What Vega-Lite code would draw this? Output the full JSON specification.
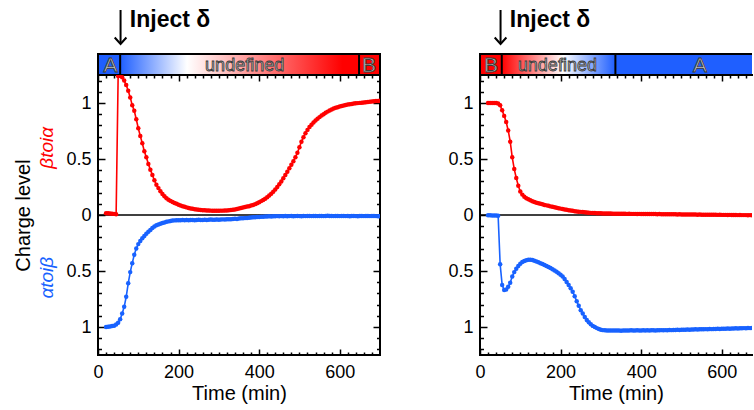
{
"$schema": "https://vega.github.io/schema/vega-lite/v6.json",
"background": "white",
"padding": {"left": 12, "top": 4, "right": 0, "bottom": 0},
"config": {
  "font": "Liberation Sans",
  "view": {"stroke": "black", "strokeWidth": 2},
  "axis": {"grid": false, "domain": false, "labelFont": "Liberation Sans", "labelFontSize": 18, "labelColor": "black", "titleFont": "Liberation Sans", "titleFontSize": 20, "titleFontWeight": "normal", "titleColor": "black", "tickColor": "black", "tickWidth": 1.5, "labelOverlap": false, "labelFlush": false}
},
"datasets": {
"LR": [{"t":20,"v":0.015},{"t":25,"v":0.015},{"t":30,"v":0.014},{"t":35,"v":0.012},{"t":40,"v":0.01},{"t":45,"v":0.006},{"t":50,"v":1.24},{"t":55,"v":1.24},{"t":60,"v":1.23},{"t":65,"v":1.2},{"t":70,"v":1.16},{"t":75,"v":1.11},{"t":80,"v":1.05},{"t":85,"v":0.98},{"t":90,"v":0.93},{"t":95,"v":0.855},{"t":100,"v":0.775},{"t":105,"v":0.705},{"t":110,"v":0.64},{"t":115,"v":0.57},{"t":120,"v":0.515},{"t":125,"v":0.455},{"t":130,"v":0.405},{"t":135,"v":0.357},{"t":140,"v":0.31},{"t":145,"v":0.27},{"t":150,"v":0.24},{"t":155,"v":0.212},{"t":160,"v":0.187},{"t":165,"v":0.167},{"t":170,"v":0.15},{"t":175,"v":0.137},{"t":180,"v":0.126},{"t":185,"v":0.116},{"t":190,"v":0.108},{"t":195,"v":0.1},{"t":200,"v":0.092},{"t":205,"v":0.085},{"t":210,"v":0.079},{"t":215,"v":0.073},{"t":220,"v":0.068},{"t":225,"v":0.063},{"t":230,"v":0.059},{"t":235,"v":0.055},{"t":240,"v":0.051},{"t":245,"v":0.049},{"t":250,"v":0.047},{"t":255,"v":0.045},{"t":260,"v":0.043},{"t":265,"v":0.042},{"t":270,"v":0.041},{"t":275,"v":0.04},{"t":280,"v":0.039},{"t":285,"v":0.038},{"t":290,"v":0.038},{"t":295,"v":0.038},{"t":300,"v":0.038},{"t":305,"v":0.039},{"t":310,"v":0.039},{"t":315,"v":0.04},{"t":320,"v":0.041},{"t":325,"v":0.043},{"t":330,"v":0.045},{"t":335,"v":0.047},{"t":340,"v":0.05},{"t":345,"v":0.054},{"t":350,"v":0.058},{"t":355,"v":0.063},{"t":360,"v":0.067},{"t":365,"v":0.071},{"t":370,"v":0.075},{"t":375,"v":0.079},{"t":380,"v":0.084},{"t":385,"v":0.089},{"t":390,"v":0.097},{"t":395,"v":0.105},{"t":400,"v":0.114},{"t":405,"v":0.124},{"t":410,"v":0.134},{"t":415,"v":0.146},{"t":420,"v":0.159},{"t":425,"v":0.174},{"t":430,"v":0.19},{"t":435,"v":0.208},{"t":440,"v":0.228},{"t":445,"v":0.25},{"t":450,"v":0.274},{"t":455,"v":0.3},{"t":460,"v":0.328},{"t":465,"v":0.357},{"t":470,"v":0.387},{"t":475,"v":0.417},{"t":480,"v":0.448},{"t":485,"v":0.48},{"t":490,"v":0.515},{"t":495,"v":0.556},{"t":500,"v":0.605},{"t":505,"v":0.655},{"t":510,"v":0.695},{"t":515,"v":0.73},{"t":520,"v":0.76},{"t":525,"v":0.785},{"t":530,"v":0.806},{"t":535,"v":0.825},{"t":540,"v":0.843},{"t":545,"v":0.859},{"t":550,"v":0.874},{"t":555,"v":0.888},{"t":560,"v":0.9},{"t":565,"v":0.912},{"t":570,"v":0.923},{"t":575,"v":0.933},{"t":580,"v":0.942},{"t":585,"v":0.95},{"t":590,"v":0.957},{"t":595,"v":0.963},{"t":600,"v":0.969},{"t":605,"v":0.974},{"t":610,"v":0.978},{"t":615,"v":0.982},{"t":620,"v":0.986},{"t":625,"v":0.989},{"t":630,"v":0.992},{"t":635,"v":0.995},{"t":640,"v":0.997},{"t":645,"v":0.999},{"t":650,"v":1.001},{"t":655,"v":1.003},{"t":660,"v":1.005},{"t":665,"v":1.007},{"t":670,"v":1.009},{"t":675,"v":1.011},{"t":680,"v":1.013},{"t":685,"v":1.015},{"t":690,"v":1.017},{"t":695,"v":1.018},{"t":700,"v":1.02}],
"LB": [{"t":20,"v":-1.0},{"t":25,"v":-0.998},{"t":30,"v":-0.995},{"t":35,"v":-0.992},{"t":40,"v":-0.988},{"t":45,"v":-0.978},{"t":50,"v":-0.962},{"t":55,"v":-0.93},{"t":60,"v":-0.88},{"t":65,"v":-0.82},{"t":70,"v":-0.73},{"t":75,"v":-0.61},{"t":80,"v":-0.51},{"t":85,"v":-0.43},{"t":90,"v":-0.355},{"t":95,"v":-0.3},{"t":100,"v":-0.26},{"t":105,"v":-0.232},{"t":110,"v":-0.208},{"t":115,"v":-0.187},{"t":120,"v":-0.167},{"t":125,"v":-0.15},{"t":130,"v":-0.133},{"t":135,"v":-0.117},{"t":140,"v":-0.102},{"t":145,"v":-0.092},{"t":150,"v":-0.084},{"t":155,"v":-0.078},{"t":160,"v":-0.072},{"t":165,"v":-0.066},{"t":170,"v":-0.061},{"t":175,"v":-0.057},{"t":180,"v":-0.053},{"t":185,"v":-0.05},{"t":190,"v":-0.048},{"t":195,"v":-0.047},{"t":200,"v":-0.046},{"t":205,"v":-0.047},{"t":210,"v":-0.045},{"t":215,"v":-0.046},{"t":220,"v":-0.044},{"t":225,"v":-0.046},{"t":230,"v":-0.045},{"t":235,"v":-0.044},{"t":240,"v":-0.046},{"t":245,"v":-0.045},{"t":250,"v":-0.043},{"t":255,"v":-0.045},{"t":260,"v":-0.044},{"t":265,"v":-0.042},{"t":270,"v":-0.044},{"t":275,"v":-0.043},{"t":280,"v":-0.041},{"t":285,"v":-0.043},{"t":290,"v":-0.042},{"t":295,"v":-0.04},{"t":300,"v":-0.042},{"t":305,"v":-0.04},{"t":310,"v":-0.039},{"t":315,"v":-0.04},{"t":320,"v":-0.038},{"t":325,"v":-0.037},{"t":330,"v":-0.038},{"t":335,"v":-0.035},{"t":340,"v":-0.034},{"t":345,"v":-0.035},{"t":350,"v":-0.032},{"t":355,"v":-0.03},{"t":360,"v":-0.03},{"t":365,"v":-0.027},{"t":370,"v":-0.026},{"t":375,"v":-0.024},{"t":380,"v":-0.023},{"t":385,"v":-0.021},{"t":390,"v":-0.02},{"t":395,"v":-0.018},{"t":400,"v":-0.017},{"t":405,"v":-0.016},{"t":410,"v":-0.015},{"t":415,"v":-0.014},{"t":420,"v":-0.014},{"t":425,"v":-0.012},{"t":430,"v":-0.013},{"t":435,"v":-0.011},{"t":440,"v":-0.012},{"t":445,"v":-0.01},{"t":450,"v":-0.011},{"t":455,"v":-0.01},{"t":460,"v":-0.011},{"t":465,"v":-0.009},{"t":470,"v":-0.011},{"t":475,"v":-0.01},{"t":480,"v":-0.009},{"t":485,"v":-0.011},{"t":490,"v":-0.01},{"t":495,"v":-0.009},{"t":500,"v":-0.01},{"t":505,"v":-0.011},{"t":510,"v":-0.009},{"t":515,"v":-0.01},{"t":520,"v":-0.009},{"t":525,"v":-0.008},{"t":530,"v":-0.01},{"t":535,"v":-0.009},{"t":540,"v":-0.008},{"t":545,"v":-0.01},{"t":550,"v":-0.009},{"t":555,"v":-0.008},{"t":560,"v":-0.01},{"t":565,"v":-0.009},{"t":570,"v":-0.007},{"t":575,"v":-0.009},{"t":580,"v":-0.008},{"t":585,"v":-0.01},{"t":590,"v":-0.009},{"t":595,"v":-0.008},{"t":600,"v":-0.01},{"t":605,"v":-0.009},{"t":610,"v":-0.008},{"t":615,"v":-0.01},{"t":620,"v":-0.009},{"t":625,"v":-0.011},{"t":630,"v":-0.009},{"t":635,"v":-0.008},{"t":640,"v":-0.01},{"t":645,"v":-0.011},{"t":650,"v":-0.009},{"t":655,"v":-0.008},{"t":660,"v":-0.01},{"t":665,"v":-0.009},{"t":670,"v":-0.008},{"t":675,"v":-0.01},{"t":680,"v":-0.009},{"t":685,"v":-0.008},{"t":690,"v":-0.01},{"t":695,"v":-0.011},{"t":700,"v":-0.012}],
"RR": [{"t":20,"v":1.0},{"t":25,"v":1.0},{"t":30,"v":1.0},{"t":35,"v":1.0},{"t":40,"v":1.0},{"t":45,"v":0.995},{"t":50,"v":0.98},{"t":55,"v":0.935},{"t":60,"v":0.885},{"t":65,"v":0.83},{"t":70,"v":0.755},{"t":75,"v":0.655},{"t":80,"v":0.515},{"t":85,"v":0.41},{"t":90,"v":0.33},{"t":95,"v":0.262},{"t":100,"v":0.21},{"t":105,"v":0.182},{"t":110,"v":0.163},{"t":115,"v":0.15},{"t":120,"v":0.14},{"t":125,"v":0.131},{"t":130,"v":0.123},{"t":135,"v":0.116},{"t":140,"v":0.11},{"t":145,"v":0.105},{"t":150,"v":0.1},{"t":155,"v":0.095},{"t":160,"v":0.09},{"t":165,"v":0.086},{"t":170,"v":0.082},{"t":175,"v":0.077},{"t":180,"v":0.073},{"t":185,"v":0.069},{"t":190,"v":0.065},{"t":195,"v":0.061},{"t":200,"v":0.057},{"t":205,"v":0.053},{"t":210,"v":0.049},{"t":215,"v":0.046},{"t":220,"v":0.043},{"t":225,"v":0.04},{"t":230,"v":0.037},{"t":235,"v":0.034},{"t":240,"v":0.032},{"t":245,"v":0.03},{"t":250,"v":0.028},{"t":255,"v":0.026},{"t":260,"v":0.024},{"t":265,"v":0.022},{"t":270,"v":0.021},{"t":275,"v":0.019},{"t":280,"v":0.018},{"t":285,"v":0.017},{"t":290,"v":0.016},{"t":295,"v":0.015},{"t":300,"v":0.015},{"t":305,"v":0.014},{"t":310,"v":0.014},{"t":315,"v":0.013},{"t":320,"v":0.013},{"t":325,"v":0.013},{"t":330,"v":0.012},{"t":335,"v":0.012},{"t":340,"v":0.012},{"t":345,"v":0.011},{"t":350,"v":0.011},{"t":355,"v":0.011},{"t":360,"v":0.011},{"t":365,"v":0.01},{"t":370,"v":0.011},{"t":375,"v":0.01},{"t":380,"v":0.01},{"t":385,"v":0.01},{"t":390,"v":0.009},{"t":395,"v":0.01},{"t":400,"v":0.009},{"t":405,"v":0.009},{"t":410,"v":0.009},{"t":415,"v":0.008},{"t":420,"v":0.009},{"t":425,"v":0.008},{"t":430,"v":0.008},{"t":435,"v":0.008},{"t":440,"v":0.007},{"t":445,"v":0.008},{"t":450,"v":0.007},{"t":455,"v":0.007},{"t":460,"v":0.007},{"t":465,"v":0.006},{"t":470,"v":0.007},{"t":475,"v":0.006},{"t":480,"v":0.006},{"t":485,"v":0.006},{"t":490,"v":0.005},{"t":495,"v":0.006},{"t":500,"v":0.005},{"t":505,"v":0.005},{"t":510,"v":0.005},{"t":515,"v":0.004},{"t":520,"v":0.005},{"t":525,"v":0.004},{"t":530,"v":0.004},{"t":535,"v":0.004},{"t":540,"v":0.003},{"t":545,"v":0.004},{"t":550,"v":0.003},{"t":555,"v":0.003},{"t":560,"v":0.003},{"t":565,"v":0.002},{"t":570,"v":0.003},{"t":575,"v":0.002},{"t":580,"v":0.002},{"t":585,"v":0.002},{"t":590,"v":0.001},{"t":595,"v":0.002},{"t":600,"v":0.001},{"t":605,"v":0.001},{"t":610,"v":0.001},{"t":615,"v":0.0},{"t":620,"v":0.001},{"t":625,"v":0.0},{"t":630,"v":0.0},{"t":635,"v":0.0},{"t":640,"v":-0.001},{"t":645,"v":0.0},{"t":650,"v":-0.001},{"t":655,"v":-0.001},{"t":660,"v":-0.001},{"t":665,"v":-0.002},{"t":670,"v":-0.001},{"t":675,"v":-0.002},{"t":680,"v":-0.002}],
"RB": [{"t":20,"v":-0.003},{"t":25,"v":-0.003},{"t":30,"v":-0.004},{"t":35,"v":-0.004},{"t":40,"v":-0.005},{"t":45,"v":-0.006},{"t":50,"v":-0.44},{"t":55,"v":-0.625},{"t":60,"v":-0.67},{"t":65,"v":-0.665},{"t":70,"v":-0.64},{"t":75,"v":-0.605},{"t":80,"v":-0.55},{"t":85,"v":-0.51},{"t":90,"v":-0.48},{"t":95,"v":-0.455},{"t":100,"v":-0.435},{"t":105,"v":-0.42},{"t":110,"v":-0.41},{"t":115,"v":-0.404},{"t":120,"v":-0.4},{"t":125,"v":-0.4},{"t":130,"v":-0.402},{"t":135,"v":-0.408},{"t":140,"v":-0.415},{"t":145,"v":-0.422},{"t":150,"v":-0.43},{"t":155,"v":-0.438},{"t":160,"v":-0.446},{"t":165,"v":-0.455},{"t":170,"v":-0.464},{"t":175,"v":-0.474},{"t":180,"v":-0.484},{"t":185,"v":-0.495},{"t":190,"v":-0.507},{"t":195,"v":-0.52},{"t":200,"v":-0.533},{"t":205,"v":-0.55},{"t":210,"v":-0.572},{"t":215,"v":-0.598},{"t":220,"v":-0.625},{"t":225,"v":-0.655},{"t":230,"v":-0.685},{"t":235,"v":-0.725},{"t":240,"v":-0.77},{"t":245,"v":-0.81},{"t":250,"v":-0.85},{"t":255,"v":-0.88},{"t":260,"v":-0.91},{"t":265,"v":-0.937},{"t":270,"v":-0.958},{"t":275,"v":-0.975},{"t":280,"v":-0.99},{"t":285,"v":-1.0},{"t":290,"v":-1.01},{"t":295,"v":-1.018},{"t":300,"v":-1.024},{"t":305,"v":-1.028},{"t":310,"v":-1.03},{"t":315,"v":-1.031},{"t":320,"v":-1.032},{"t":325,"v":-1.031},{"t":330,"v":-1.032},{"t":335,"v":-1.031},{"t":340,"v":-1.032},{"t":345,"v":-1.031},{"t":350,"v":-1.033},{"t":355,"v":-1.032},{"t":360,"v":-1.031},{"t":365,"v":-1.032},{"t":370,"v":-1.031},{"t":375,"v":-1.03},{"t":380,"v":-1.032},{"t":385,"v":-1.031},{"t":390,"v":-1.03},{"t":395,"v":-1.031},{"t":400,"v":-1.032},{"t":405,"v":-1.03},{"t":410,"v":-1.031},{"t":415,"v":-1.03},{"t":420,"v":-1.031},{"t":425,"v":-1.029},{"t":430,"v":-1.03},{"t":435,"v":-1.031},{"t":440,"v":-1.029},{"t":445,"v":-1.03},{"t":450,"v":-1.028},{"t":455,"v":-1.029},{"t":460,"v":-1.028},{"t":465,"v":-1.029},{"t":470,"v":-1.027},{"t":475,"v":-1.028},{"t":480,"v":-1.026},{"t":485,"v":-1.027},{"t":490,"v":-1.025},{"t":495,"v":-1.026},{"t":500,"v":-1.025},{"t":505,"v":-1.024},{"t":510,"v":-1.025},{"t":515,"v":-1.023},{"t":520,"v":-1.024},{"t":525,"v":-1.022},{"t":530,"v":-1.023},{"t":535,"v":-1.021},{"t":540,"v":-1.022},{"t":545,"v":-1.02},{"t":550,"v":-1.021},{"t":555,"v":-1.02},{"t":560,"v":-1.019},{"t":565,"v":-1.02},{"t":570,"v":-1.018},{"t":575,"v":-1.019},{"t":580,"v":-1.017},{"t":585,"v":-1.018},{"t":590,"v":-1.016},{"t":595,"v":-1.017},{"t":600,"v":-1.016},{"t":605,"v":-1.015},{"t":610,"v":-1.016},{"t":615,"v":-1.014},{"t":620,"v":-1.015},{"t":625,"v":-1.013},{"t":630,"v":-1.014},{"t":635,"v":-1.012},{"t":640,"v":-1.013},{"t":645,"v":-1.011},{"t":650,"v":-1.012},{"t":655,"v":-1.01},{"t":660,"v":-1.011},{"t":665,"v":-1.009},{"t":670,"v":-1.01},{"t":675,"v":-1.008},{"t":680,"v":-1.009}]
},
"spacing": 65,
"hconcat": [
{
  "spacing": 0,
  "bounds": "flush",
  "vconcat": [
    {
      "width": 282, "height": 71,
      "view": {"stroke": null},
      "layer": [
        {"data": {"values": [{"s": 0, "e": 55, "k": "A"}, {"s": 648, "e": 700, "k": "B"}]},
         "mark": {"type": "rect"},
         "encoding": {
           "x": {"field": "s", "type": "quantitative", "scale": {"domain": [0, 700], "nice": false, "zero": false}, "axis": null},
           "x2": {"field": "e"},
           "y": {"datum": 0, "type": "quantitative", "scale": {"domain": [0, 71], "nice": false}, "axis": null},
           "y2": {"datum": 21},
           "color": {"field": "k", "type": "nominal", "scale": {"domain": ["A", "B"], "range": ["#1f5fff", "#ff0000"]}, "legend": null}
         }},
        {"data": {"values": [{"s": 55, "e": 648}]},
         "mark": {"type": "rect", "fill": {"gradient": "linear", "x1": 0, "x2": 1, "y1": 0, "y2": 0, "stops": [{"offset": 0, "color": "#1f5fff"}, {"offset": 0.28, "color": "#ffffff"}, {"offset": 0.93, "color": "#ff0000"}, {"offset": 1, "color": "#ff0000"}]}},
         "encoding": {
           "x": {"field": "s", "type": "quantitative"},
           "x2": {"field": "e"},
           "y": {"datum": 0, "type": "quantitative"},
           "y2": {"datum": 21}
         }},
        {"data": {"values": [{"b": 0}, {"b": 55}, {"b": 648}, {"b": 700}]},
         "mark": {"type": "rule", "color": "black", "strokeWidth": 2, "strokeCap": "square"},
         "encoding": {
           "x": {"field": "b", "type": "quantitative"},
           "y": {"datum": 0, "type": "quantitative"},
           "y2": {"datum": 21}
         }},
        {"data": {"values": [{}]},
         "mark": {"type": "rule", "color": "black", "strokeWidth": 2, "strokeCap": "square"},
         "encoding": {
           "x": {"datum": 0, "type": "quantitative"},
           "x2": {"datum": 700},
           "y": {"datum": 21, "type": "quantitative"}
         }},
        {"data": {"values": [{"m": 31, "lab": "A"}, {"m": 673, "lab": "B"}]},
         "mark": {"type": "text", "fontSize": 21, "color": "#c8c8c8", "stroke": "#3a3a3a", "strokeWidth": 0.9, "baseline": "middle", "align": "center", "dy": 1},
         "encoding": {
           "x": {"field": "m", "type": "quantitative"},
           "y": {"datum": 10.5, "type": "quantitative"},
           "text": {"field": "lab"}
         }},
        {"data": {"values": [{"m": 364, "lab": "undefined"}]},
         "mark": {"type": "text", "fontSize": 18, "color": "#b8b8b8", "stroke": "#3a3a3a", "strokeWidth": 0.8, "baseline": "middle", "align": "center", "dy": 1},
         "encoding": {
           "x": {"field": "m", "type": "quantitative"},
           "y": {"datum": 10.5, "type": "quantitative"},
           "text": {"field": "lab"}
         }},
        {"data": {"values": [{"m": 79, "lab": "Inject δ"}]},
         "mark": {"type": "text", "fontSize": 23, "fontWeight": "bold", "color": "black", "baseline": "middle", "align": "left"},
         "encoding": {
           "x": {"field": "m", "type": "quantitative"},
           "y": {"datum": 55, "type": "quantitative"},
           "text": {"field": "lab"}
         }},
        {"data": {"values": [{"m": 56}]},
         "mark": {"type": "rule", "color": "black", "strokeWidth": 2},
         "encoding": {
           "x": {"field": "m", "type": "quantitative"},
           "y": {"datum": 31, "type": "quantitative"},
           "y2": {"datum": 65}
         }},
        {"data": {"values": [{"m": 56}]},
         "mark": {"type": "point", "shape": "M-0.9,-1L0,0L0.9,-1", "filled": false, "stroke": "black", "strokeWidth": 2, "size": 169, "opacity": 1},
         "encoding": {
           "x": {"field": "m", "type": "quantitative"},
           "y": {"datum": 31, "type": "quantitative"}
         }}
      ]
    },
    {
      "width": 282, "height": 280,
      "layer": [
        {
          "layer": [
            {"data": {"values": [{}]},
             "mark": {"type": "rule", "color": "black", "strokeWidth": 1.5},
             "encoding": {"y": {"datum": 0, "type": "quantitative"}}},
            {"data": {"name": "LR"},
             "mark": {"type": "line", "color": "#ff0000", "strokeWidth": 1.6, "clip": true, "point": {"filled": true, "size": 20, "color": "#ff0000"}},
             "encoding": {
               "x": {"field": "t", "type": "quantitative", "scale": {"domain": [0, 700], "nice": false, "zero": false},
                     "axis": {"orient": "bottom", "values": [0, 200, 400, 600], "tickSize": 6, "offset": -6, "labelOverlap": false, "labelPadding": 8, "title": "Time (min)", "titlePadding": 2}},
               "y": {"field": "v", "type": "quantitative", "scale": {"domain": [-1.25, 1.25], "nice": false, "zero": false},
                     "axis": {"orient": "left", "values": [-1, -0.5, 0, 0.5, 1], "labelExpr": "'' + abs(datum.value)", "tickSize": 7, "offset": -7, "labelOverlap": false, "labelPadding": 7, "title": "Charge level", "titlePadding": 32}}
             }},
            {"data": {"name": "LB"},
             "mark": {"type": "line", "color": "#1862ff", "strokeWidth": 1.6, "clip": true, "point": {"filled": true, "size": 20, "color": "#1862ff"}},
             "encoding": {
               "x": {"field": "t", "type": "quantitative"},
               "y": {"field": "v", "type": "quantitative"}
             }},
            {"data": {"values": [{"lab": "βtoiα"}]},
             "mark": {"type": "text", "angle": 270, "color": "#ff0000", "fontSize": 19, "fontStyle": "italic", "align": "center", "baseline": "middle"},
             "encoding": {
               "x": {"datum": -127, "type": "quantitative"},
               "y": {"datum": 0.6, "type": "quantitative"},
               "text": {"field": "lab"}
             }},
            {"data": {"values": [{"lab": "αtoiβ"}]},
             "mark": {"type": "text", "angle": 270, "color": "#1862ff", "fontSize": 19, "fontStyle": "italic", "align": "center", "baseline": "middle"},
             "encoding": {
               "x": {"datum": -127, "type": "quantitative"},
               "y": {"datum": -0.56, "type": "quantitative"},
               "text": {"field": "lab"}
             }}
          ]
        },
        {
          "data": {"values": [{"t": 0, "v": 0}]},
          "mark": {"type": "point", "opacity": 0},
          "encoding": {
            "x": {"field": "t", "type": "quantitative",
                  "axis": {"orient": "bottom", "values": [20,40,60,80,100,120,140,160,180,220,240,260,280,300,320,340,360,380,420,440,460,480,500,520,540,560,580,620,640,660,680], "labels": false, "title": null, "tickSize": 3, "offset": -3}},
            "y": {"field": "v", "type": "quantitative",
                  "axis": {"orient": "left", "values": [-1.2,-1.1,-0.9,-0.8,-0.7,-0.6,-0.4,-0.3,-0.2,-0.1,0.1,0.2,0.3,0.4,0.6,0.7,0.8,0.9,1.1,1.2], "labels": false, "title": null, "tickSize": 3.5, "offset": -3.5}}
          }
        },
        {
          "data": {"values": [{"t": 0, "v": 0}]},
          "mark": {"type": "point", "opacity": 0},
          "encoding": {
            "x": {"field": "t", "type": "quantitative",
                  "axis": {"orient": "top", "values": [0, 200, 400, 600], "labels": false, "title": null, "tickSize": 6, "offset": -6}},
            "y": {"field": "v", "type": "quantitative",
                  "axis": {"orient": "right", "values": [-1, -0.5, 0, 0.5, 1], "labels": false, "title": null, "tickSize": 7, "offset": -7}}
          }
        },
        {
          "data": {"values": [{"t": 0, "v": 0}]},
          "mark": {"type": "point", "opacity": 0},
          "encoding": {
            "x": {"field": "t", "type": "quantitative",
                  "axis": {"orient": "top", "values": [20,40,60,80,100,120,140,160,180,220,240,260,280,300,320,340,360,380,420,440,460,480,500,520,540,560,580,620,640,660,680], "labels": false, "title": null, "tickSize": 3, "offset": -3}},
            "y": {"field": "v", "type": "quantitative",
                  "axis": {"orient": "right", "values": [-1.2,-1.1,-0.9,-0.8,-0.7,-0.6,-0.4,-0.3,-0.2,-0.1,0.1,0.2,0.3,0.4,0.6,0.7,0.8,0.9,1.1,1.2], "labels": false, "title": null, "tickSize": 3.5, "offset": -3.5}}
          }
        }
      ],
      "resolve": {"axis": {"x": "independent", "y": "independent"}}
    }
  ]
},
{
  "spacing": 0,
  "bounds": "flush",
  "vconcat": [
    {
      "width": 272, "height": 71,
      "view": {"stroke": null},
      "layer": [
        {"data": {"values": [{"s": 0, "e": 54, "k": "B"}, {"s": 336, "e": 675, "k": "A"}]},
         "mark": {"type": "rect"},
         "encoding": {
           "x": {"field": "s", "type": "quantitative", "scale": {"domain": [0, 675], "nice": false, "zero": false}, "axis": null},
           "x2": {"field": "e"},
           "y": {"datum": 0, "type": "quantitative", "scale": {"domain": [0, 71], "nice": false}, "axis": null},
           "y2": {"datum": 21},
           "color": {"field": "k", "type": "nominal", "scale": {"domain": ["A", "B"], "range": ["#1f5fff", "#ff0000"]}, "legend": null}
         }},
        {"data": {"values": [{"s": 54, "e": 336}]},
         "mark": {"type": "rect", "fill": {"gradient": "linear", "x1": 0, "x2": 1, "y1": 0, "y2": 0, "stops": [{"offset": 0, "color": "#ff0000"}, {"offset": 0.54, "color": "#ffffff"}, {"offset": 1, "color": "#1f5fff"}]}},
         "encoding": {
           "x": {"field": "s", "type": "quantitative"},
           "x2": {"field": "e"},
           "y": {"datum": 0, "type": "quantitative"},
           "y2": {"datum": 21}
         }},
        {"data": {"values": [{"b": 0}, {"b": 54}, {"b": 336}]},
         "mark": {"type": "rule", "color": "black", "strokeWidth": 2, "strokeCap": "square"},
         "encoding": {
           "x": {"field": "b", "type": "quantitative"},
           "y": {"datum": 0, "type": "quantitative"},
           "y2": {"datum": 21}
         }},
        {"data": {"values": [{}]},
         "mark": {"type": "rule", "color": "black", "strokeWidth": 2},
         "encoding": {
           "x": {"datum": 0, "type": "quantitative"},
           "x2": {"datum": 675},
           "y": {"datum": 21, "type": "quantitative"}
         }},
        {"data": {"values": [{"m": 27, "lab": "B"}, {"m": 546, "lab": "A"}]},
         "mark": {"type": "text", "fontSize": 21, "color": "#c8c8c8", "stroke": "#3a3a3a", "strokeWidth": 0.9, "baseline": "middle", "align": "center", "dy": 1},
         "encoding": {
           "x": {"field": "m", "type": "quantitative"},
           "y": {"datum": 10.5, "type": "quantitative"},
           "text": {"field": "lab"}
         }},
        {"data": {"values": [{"m": 192, "lab": "undefined"}]},
         "mark": {"type": "text", "fontSize": 18, "color": "#b8b8b8", "stroke": "#3a3a3a", "strokeWidth": 0.8, "baseline": "middle", "align": "center", "dy": 1},
         "encoding": {
           "x": {"field": "m", "type": "quantitative"},
           "y": {"datum": 10.5, "type": "quantitative"},
           "text": {"field": "lab"}
         }},
        {"data": {"values": [{"m": 74, "lab": "Inject δ"}]},
         "mark": {"type": "text", "fontSize": 23, "fontWeight": "bold", "color": "black", "baseline": "middle", "align": "left"},
         "encoding": {
           "x": {"field": "m", "type": "quantitative"},
           "y": {"datum": 55, "type": "quantitative"},
           "text": {"field": "lab"}
         }},
        {"data": {"values": [{"m": 51}]},
         "mark": {"type": "rule", "color": "black", "strokeWidth": 2},
         "encoding": {
           "x": {"field": "m", "type": "quantitative"},
           "y": {"datum": 31, "type": "quantitative"},
           "y2": {"datum": 65}
         }},
        {"data": {"values": [{"m": 51}]},
         "mark": {"type": "point", "shape": "M-0.9,-1L0,0L0.9,-1", "filled": false, "stroke": "black", "strokeWidth": 2, "size": 169, "opacity": 1},
         "encoding": {
           "x": {"field": "m", "type": "quantitative"},
           "y": {"datum": 31, "type": "quantitative"}
         }}
      ]
    },
    {
      "width": 272, "height": 280,
      "view": {"stroke": null},
      "layer": [
        {
          "layer": [
            {"data": {"values": [{}]},
             "mark": {"type": "rule", "color": "black", "strokeWidth": 1.5},
             "encoding": {"y": {"datum": 0, "type": "quantitative"}}},
            {"data": {"values": [{}]},
             "mark": {"type": "rule", "color": "black", "strokeWidth": 2, "strokeCap": "square"},
             "encoding": {"x": {"datum": 0, "type": "quantitative"}}},
            {"data": {"values": [{}]},
             "mark": {"type": "rule", "color": "black", "strokeWidth": 2, "strokeCap": "square"},
             "encoding": {"y": {"datum": -1.25, "type": "quantitative"}}},
            {"data": {"values": [{}]},
             "mark": {"type": "rule", "color": "black", "strokeWidth": 2, "strokeCap": "square"},
             "encoding": {"y": {"datum": 1.25, "type": "quantitative"}}},
            {"data": {"name": "RR"},
             "mark": {"type": "line", "color": "#ff0000", "strokeWidth": 1.6, "clip": true, "point": {"filled": true, "size": 20, "color": "#ff0000"}},
             "encoding": {
               "x": {"field": "t", "type": "quantitative", "scale": {"domain": [0, 675], "nice": false, "zero": false},
                     "axis": {"orient": "bottom", "values": [0, 200, 400, 600], "tickSize": 6, "offset": -6, "labelOverlap": false, "labelPadding": 8, "title": "Time (min)", "titlePadding": 2}},
               "y": {"field": "v", "type": "quantitative", "scale": {"domain": [-1.25, 1.25], "nice": false, "zero": false},
                     "axis": {"orient": "left", "values": [-1, -0.5, 0, 0.5, 1], "labelExpr": "'' + abs(datum.value)", "tickSize": 7, "offset": -7, "labelOverlap": false, "labelPadding": 7, "title": null}}
             }},
            {"data": {"name": "RB"},
             "mark": {"type": "line", "color": "#1862ff", "strokeWidth": 1.6, "clip": true, "point": {"filled": true, "size": 20, "color": "#1862ff"}},
             "encoding": {
               "x": {"field": "t", "type": "quantitative"},
               "y": {"field": "v", "type": "quantitative"}
             }}
          ]
        },
        {
          "data": {"values": [{"t": 0, "v": 0}]},
          "mark": {"type": "point", "opacity": 0},
          "encoding": {
            "x": {"field": "t", "type": "quantitative",
                  "axis": {"orient": "bottom", "values": [20,40,60,80,100,120,140,160,180,220,240,260,280,300,320,340,360,380,420,440,460,480,500,520,540,560,580,620,640,660], "labels": false, "title": null, "tickSize": 3, "offset": -3}},
            "y": {"field": "v", "type": "quantitative",
                  "axis": {"orient": "left", "values": [-1.2,-1.1,-0.9,-0.8,-0.7,-0.6,-0.4,-0.3,-0.2,-0.1,0.1,0.2,0.3,0.4,0.6,0.7,0.8,0.9,1.1,1.2], "labels": false, "title": null, "tickSize": 3.5, "offset": -3.5}}
          }
        },
        {
          "data": {"values": [{"t": 0, "v": 0}]},
          "mark": {"type": "point", "opacity": 0},
          "encoding": {
            "x": {"field": "t", "type": "quantitative",
                  "axis": {"orient": "top", "values": [0, 200, 400, 600], "labels": false, "title": null, "tickSize": 6, "offset": -6}},
            "y": {"field": "v", "type": "quantitative", "axis": null}
          }
        },
        {
          "data": {"values": [{"t": 0, "v": 0}]},
          "mark": {"type": "point", "opacity": 0},
          "encoding": {
            "x": {"field": "t", "type": "quantitative",
                  "axis": {"orient": "top", "values": [20,40,60,80,100,120,140,160,180,220,240,260,280,300,320,340,360,380,420,440,460,480,500,520,540,560,580,620,640,660], "labels": false, "title": null, "tickSize": 3, "offset": -3}},
            "y": {"field": "v", "type": "quantitative", "axis": null}
          }
        }
      ],
      "resolve": {"axis": {"x": "independent", "y": "independent"}}
    }
  ]
}
]
}
